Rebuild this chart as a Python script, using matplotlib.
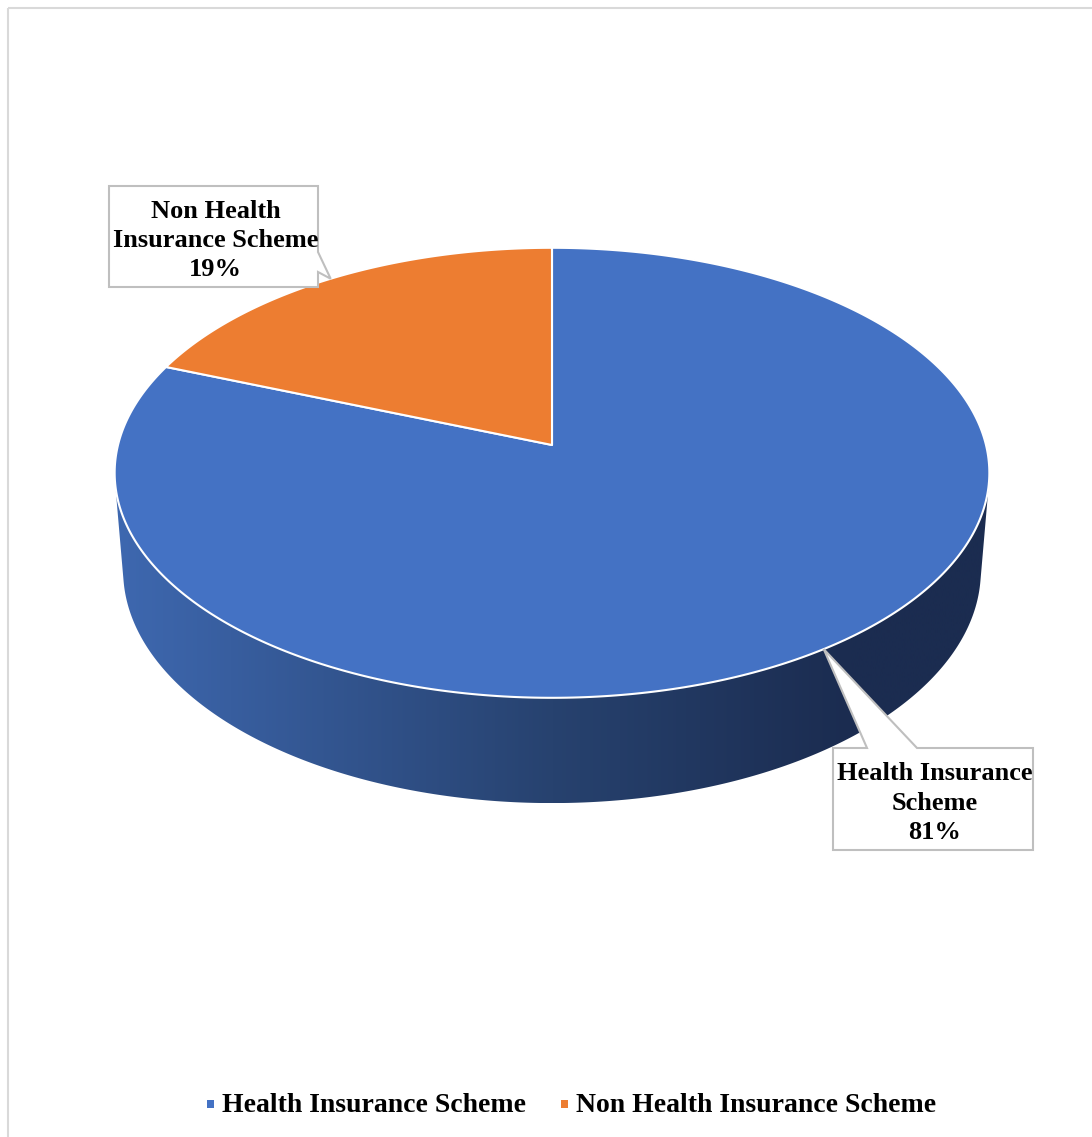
import numpy as np
import matplotlib
matplotlib.use("Agg")
import matplotlib.pyplot as plt
from matplotlib.patches import Polygon, Rectangle
from matplotlib.colors import LinearSegmentedColormap

# ---- data ----
categories = ["Health Insurance Scheme", "Non Health Insurance Scheme"]
shares = [81, 19]
label_lines = ["Health Insurance\nScheme", "Non Health\nInsurance Scheme"]
colors = ["#4472C4", "#ED7D31"]

# ---- figure ----
W, H = 1092, 1137
plt.rcParams["font.family"] = ["Liberation Serif", "DejaVu Serif"]
fig = plt.figure(figsize=(W / 100, H / 100), dpi=100)

# pie axes: units of pie radius, apex at (552, 445) px, 434 px per unit
cx, cy, scale = 552, 445, 434.0
ax = fig.add_axes([0, 0, 1, 1])
ax.set_xlim(-cx / scale, (W - cx) / scale)
ax.set_ylim(-(H - cy) / scale, cy / scale)
ax.axis("off")

# overlay axes in pixel units for frame, callouts and legend
ov = fig.add_axes([0, 0, 1, 1], zorder=5)
ov.set_xlim(0, W)
ov.set_ylim(H, 0)
ov.axis("off")
ov.patch.set_alpha(0)

# perspective camera
elev = np.deg2rad(30.7)
dist = 6.96
thick = 0.266
se, ce = np.sin(elev), np.cos(elev)


def project(t, z=0.0):
    x, y = np.cos(t), np.sin(t)
    ys = y * se + z * ce
    depth = dist + y * ce - z * se
    f = dist / depth
    return x * f, ys * f


def arc(a0, a1, z=0.0, n=400):
    t = np.deg2rad(np.linspace(a0, a1, n))
    X, Y = project(t, z)
    return np.column_stack([X, Y])


def convex_hull(points):
    pts = sorted(map(tuple, points))

    def cross(o, a, b):
        return (a[0] - o[0]) * (b[1] - o[1]) - (a[1] - o[1]) * (b[0] - o[0])

    lower, upper = [], []
    for p in pts:
        while len(lower) >= 2 and cross(lower[-2], lower[-1], p) <= 0:
            lower.pop()
        lower.append(p)
    for p in reversed(pts):
        while len(upper) >= 2 and cross(upper[-2], upper[-1], p) <= 0:
            upper.pop()
        upper.append(p)
    return np.array(lower[:-1] + upper[:-1])


# slice angles: start at 12 o'clock, clockwise
total = float(sum(shares))
starts, ends = [], []
a = 90.0
for s in shares:
    starts.append(a)
    a -= 360.0 * s / total
    ends.append(a)

# ---- side wall: silhouette of the solid, top face drawn over it ----
solid = convex_hull(np.vstack([arc(0, 360, 0.0, 720), arc(0, 360, -thick, 720)]))
side_patch = Polygon(solid, closed=True, facecolor="none", edgecolor="none")
ax.add_patch(side_patch)
grad_cmap = LinearSegmentedColormap.from_list(
    "side",
    [(0.0, "#3E68B0"), (0.5, "#27426F"), (0.84, "#1B2C50"), (1.0, "#1B2C50")],
)
gx = np.linspace(0, 1, 512).reshape(1, -1)
xmin, xmax = solid[:, 0].min(), solid[:, 0].max()
ymin, ymax = solid[:, 1].min(), solid[:, 1].max()
im = ax.imshow(gx, cmap=grad_cmap, extent=[xmin, xmax, ymin, ymax],
               aspect="auto", zorder=1, interpolation="bilinear")
im.set_clip_path(side_patch)

# ---- top faces ----
for s0, s1, col in zip(starts, ends, colors):
    pts = np.vstack([[0, 0], arc(s0, s1, 0.0)])
    ax.add_patch(Polygon(pts, closed=True, facecolor=col, edgecolor="white",
                         linewidth=1.5, joinstyle="round", zorder=3))

# ---- frame ----
ov.add_patch(Rectangle((7.5, 7.5), W + 20, H + 20, facecolor="none",
                       edgecolor="#D9D9D9", linewidth=1.5, zorder=1))


# ---- callout labels ----
def to_pixels(pt):
    disp = ax.transData.transform(pt)
    return ov.transData.inverted().transform(disp)


def callout(box, tip, base, text):
    x0, y0, x1, y1 = box
    b0, b1, side_ = base
    if side_ == "top":
        pts = [(x0, y0), (b0, y0), tip, (b1, y0), (x1, y0), (x1, y1), (x0, y1)]
    else:  # pointer leaving the right edge
        pts = [(x0, y0), (x1, y0), (x1, b0), tip, (x1, b1), (x1, y1), (x0, y1)]
    ov.add_patch(Polygon(pts, closed=True, facecolor="white",
                         edgecolor="#BFBFBF", linewidth=1.5, zorder=6))
    ov.text((x0 + x1) / 2 + 2, (y0 + y1) / 2 + 4, text, ha="center",
            va="center", fontsize=19, fontweight="bold", color="black",
            linespacing=1.36, zorder=7)


mids = [(s0 + s1) / 2 for s0, s1 in zip(starts, ends)]
tips = [to_pixels(project(np.deg2rad(m), 0.0)) for m in mids]

callout((833, 748, 1033, 850), tuple(tips[0]), (867, 917, "top"),
        f"{label_lines[0]}\n{shares[0]}%")
callout((109, 186, 318, 287), tuple(tips[1]), (252, 272, "right"),
        f"{label_lines[1]}\n{shares[1]}%")

# ---- legend ----
leg_y = 1104
leg_items = [(210, 222), (564, 576)]
for (mx, tx), cat, col in zip(leg_items, categories, colors):
    ov.add_patch(Rectangle((mx - 3.5, leg_y - 4), 7, 8, facecolor=col,
                           edgecolor="none", zorder=6))
    ov.text(tx, leg_y + 2, cat, ha="left", va="center", fontsize=20,
            fontweight="bold", color="black", zorder=7)

fig.savefig("out.png", dpi=100, facecolor="white")
